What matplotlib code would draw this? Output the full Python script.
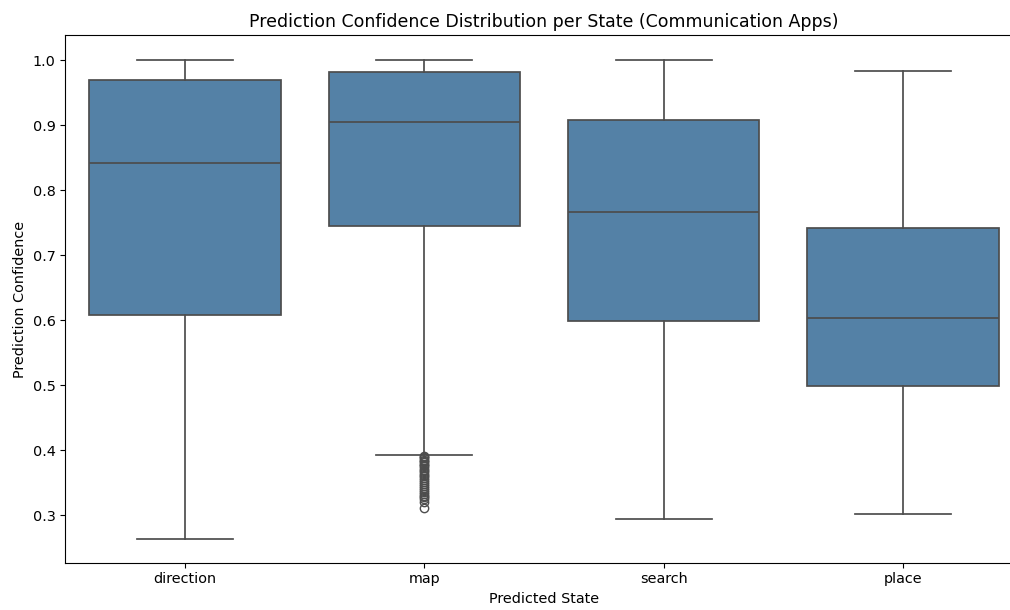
import matplotlib
matplotlib.use("Agg")
import matplotlib.pyplot as plt
import seaborn as sns

# Summary statistics of prediction confidence for each predicted state
states = ["direction", "map", "search", "place"]
whisker_low = [0.263, 0.392, 0.294, 0.302]
q1 = [0.607, 0.745, 0.599, 0.499]
median = [0.841, 0.905, 0.766, 0.603]
q3 = [0.969, 0.981, 0.907, 0.742]
whisker_high = [1.000, 1.000, 1.000, 0.983]

# Low-confidence outliers below the lower whisker of "map"
map_outliers = [0.391, 0.389, 0.387, 0.385, 0.383, 0.381, 0.379, 0.377,
                0.375, 0.372, 0.370, 0.368, 0.365, 0.362, 0.360, 0.357,
                0.354, 0.351, 0.348, 0.345, 0.342, 0.339, 0.336, 0.333,
                0.330, 0.327, 0.324, 0.320, 0.311]
outliers = [[], map_outliers, [], []]

stats = []
for i, name in enumerate(states):
    stats.append(dict(label=name, whislo=whisker_low[i], q1=q1[i],
                      med=median[i], q3=q3[i], whishi=whisker_high[i],
                      fliers=outliers[i]))

fill = sns.desaturate("steelblue", 0.75)
line = "#4d4d4d"
lw = 1.25
fs = 10.4

fig = plt.figure(figsize=(10.1, 6.1), dpi=100)
# The plotting area runs slightly past the right edge of the canvas
ax = fig.add_axes([0.0647, 0.0775, 0.9478, 0.8646])

ax.bxp(stats, positions=range(len(states)), widths=0.8, patch_artist=True,
       showfliers=True,
       boxprops=dict(facecolor=fill, edgecolor=line, linewidth=lw),
       medianprops=dict(color=line, linewidth=lw),
       whiskerprops=dict(color=line, linewidth=lw),
       capprops=dict(color=line, linewidth=lw),
       capwidths=0.4,
       flierprops=dict(marker="o", markerfacecolor="none",
                       markeredgecolor=line, markersize=6, linewidth=0))

ax.set_xlim(-0.5, len(states) - 0.5)
ax.set_ylim(0.2266, 1.038)
ax.set_xticks(range(len(states)))
ax.set_xticklabels(states, fontsize=fs)
ax.set_yticks([0.3, 0.4, 0.5, 0.6, 0.7, 0.8, 0.9, 1.0])
ax.tick_params(labelsize=fs)
ax.set_xlabel("Predicted State", fontsize=fs)
ax.set_ylabel("Prediction Confidence", fontsize=fs)
ax.set_title("Prediction Confidence Distribution per State (Communication Apps)",
             fontsize=12.5)

fig.savefig("out.png", dpi=100)
